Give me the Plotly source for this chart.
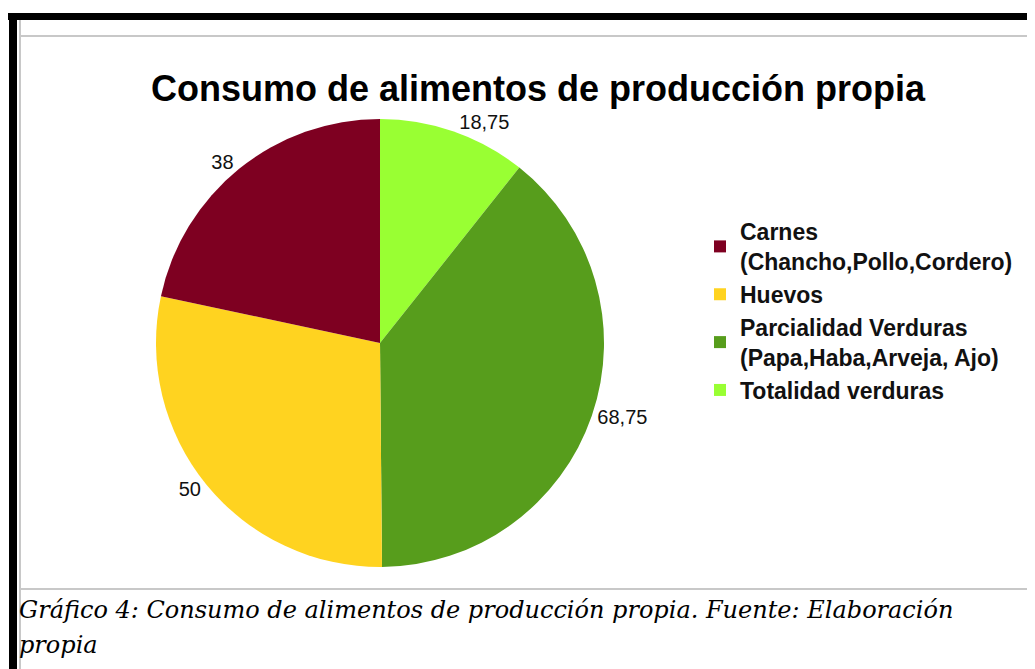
"""
Pie chart: consumo de alimentos de producción propia.
"""
import plotly.graph_objects as go

W, H = 1035, 669
OFF = 8  # page body margin in the browser

# data (legend order)
labels = [
    'Carnes<br>(Chancho,Pollo,Cordero)',
    'Huevos',
    'Parcialidad Verduras<br>(Papa,Haba,Arveja, Ajo)',
    'Totalidad verduras',
]
values = [38, 50, 68.75, 18.75]
colors = ['#7E0021', '#FFD320', '#579D1C', '#99FF33']

title_text = 'Consumo de alimentos de producción propia'
caption_lines = [
    'Gráfico 4: Consumo de alimentos de producción propia. Fuente: Elaboración',
    'propia',
]


def px(x):
    return (x - OFF) / W


def py(y):
    return 1 - (y - OFF) / H


cx, cy, r = 380, 343, 224

fig = go.Figure()
# slices run counterclockwise from 12 o'clock in the original, so feed them
# reversed and draw clockwise; legend order is flipped back below
fig.add_trace(go.Pie(
    labels=labels[::-1],
    values=values[::-1],
    marker=dict(colors=colors[::-1], line=dict(width=0)),
    sort=False,
    direction='clockwise',
    rotation=0,
    textposition='outside',
    texttemplate='%{value}',
    textfont=dict(family='Liberation Sans, Arial, sans-serif', size=20, color='#111111'),
    domain=dict(x=[px(cx - r), px(cx + r)], y=[py(cy + r), py(cy - r)]),
    hoverinfo='label+value+percent',
))

# page frame (document screenshot look)
shapes = [
    dict(type='rect', x0=px(8), x1=1, y0=py(20), y1=py(13), fillcolor='black', line_width=0),
    dict(type='rect', x0=px(9), x1=px(17), y0=0, y1=py(13), fillcolor='black', line_width=0),
    dict(type='line', x0=px(20), x1=1, y0=py(36), y1=py(36), line=dict(color='#c8c8c8', width=2)),
    dict(type='line', x0=px(20), x1=px(20), y0=0, y1=py(20), line=dict(color='#c8c8c8', width=2)),
    dict(type='line', x0=px(20), x1=1, y0=py(589), y1=py(589), line=dict(color='#c8c8c8', width=2)),
]
for s in shapes:
    s.update(xref='paper', yref='paper', layer='below')

# caption below the chart, one annotation per line
caption_y = [610, 645]
annotations = []
for line, yy in zip(caption_lines, caption_y):
    annotations.append(dict(
        text=f'<i>{line}</i>',
        xref='paper', yref='paper',
        x=px(17), xanchor='left',
        y=py(yy), yanchor='middle',
        showarrow=False,
        font=dict(family='DejaVu Serif, serif', size=24, color='black'),
    ))

fig.update_layout(
    width=W,
    height=H,
    margin=dict(l=0, r=0, t=0, b=0),
    paper_bgcolor='white',
    plot_bgcolor='white',
    separators=',.',
    shapes=shapes,
    title=dict(
        text=f'<b>{title_text}</b>',
        x=px(538), xanchor='center',
        y=py(88), yanchor='middle',
        font=dict(family='Liberation Sans, Arial, sans-serif', size=36, color='black'),
    ),
    legend=dict(
        x=px(700), xanchor='left',
        y=py(210), yanchor='top',
        traceorder='reversed',
        font=dict(family='Liberation Sans, Arial, sans-serif', size=23, color='#111111',
                  weight='bold'),
        bgcolor='rgba(0,0,0,0)',
        itemclick=False,
    ),
    annotations=annotations,
)

fig.write_html('out.html')
